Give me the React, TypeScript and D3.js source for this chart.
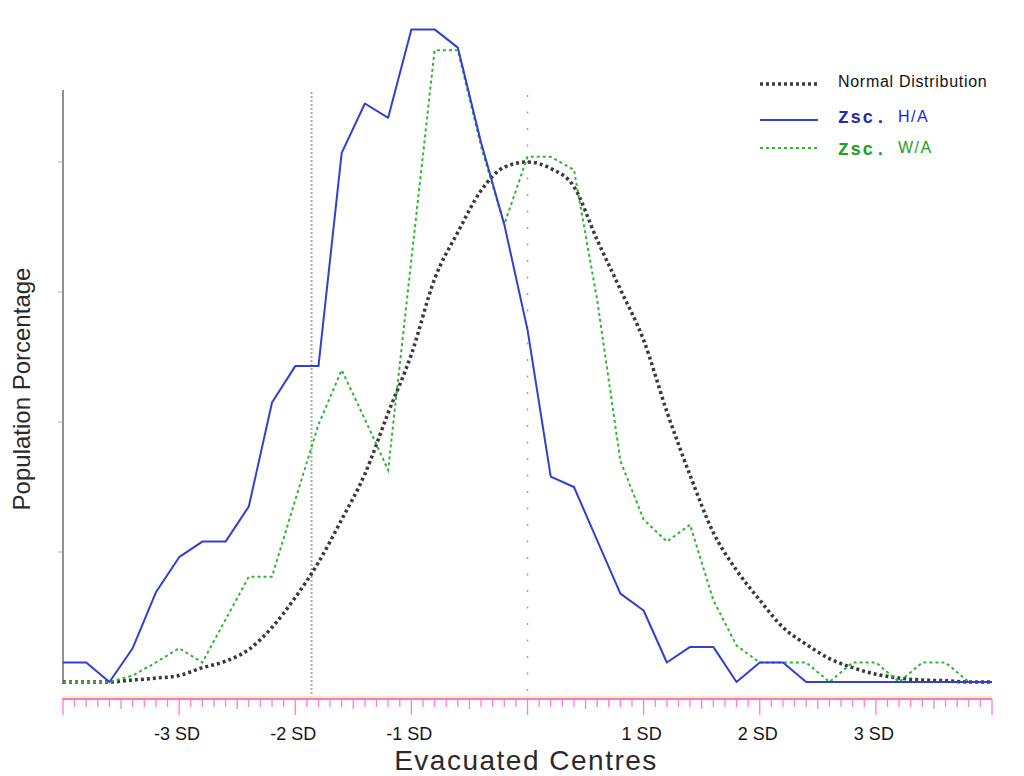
import React from 'react';
import * as d3 from 'd3';

// z-score categories (SD units)
const zScores = [
  -4.0, -3.8, -3.6, -3.4, -3.2, -3.0, -2.8, -2.6, -2.4, -2.2,
  -2.0, -1.8, -1.6, -1.4, -1.2, -1.0, -0.8, -0.6, -0.4, -0.2,
  0.0, 0.2, 0.4, 0.6, 0.8, 1.0, 1.2, 1.4, 1.6, 1.8,
  2.0, 2.2, 2.4, 2.6, 2.8, 3.0, 3.2, 3.4, 3.6, 3.8, 4.0,
];

// Zsc. H/A (blue solid)
const heightForAge = [
  0.15, 0.15, 0, 0.26, 0.69, 0.96, 1.08, 1.08, 1.35, 2.15,
  2.43, 2.43, 4.07, 4.45, 4.34, 5.02, 5.02, 4.88, 4.15, 3.52,
  2.71, 1.58, 1.5, 1.09, 0.68, 0.55, 0.15, 0.27, 0.27, 0,
  0.15, 0.15, 0, 0, 0, 0, 0, 0, 0, 0, 0,
];

// Zsc. W/A (green dotted)
const weightForAge = [
  0, 0, 0, 0.05, 0.15, 0.26, 0.15, 0.48, 0.81, 0.81,
  1.4, 1.98, 2.4, 2.02, 1.63, 3.25, 4.86, 4.86, 4.12, 3.52,
  4.04, 4.04, 3.94, 2.94, 1.7, 1.25, 1.08, 1.21, 0.63, 0.28,
  0.15, 0.15, 0.15, 0, 0.15, 0.15, 0, 0.15, 0.15, 0, 0,
];

// Normal distribution (black dotted)
const normalDistribution = [
  0, 0, 0, 0.015, 0.03, 0.05, 0.11, 0.16, 0.25, 0.42,
  0.65, 0.92, 1.25, 1.6, 2.07, 2.52, 3.1, 3.46, 3.78, 3.96,
  4.0, 3.95, 3.81, 3.4, 3.02, 2.63, 2.08, 1.59, 1.15, 0.86,
  0.63, 0.42, 0.29, 0.18, 0.11, 0.06, 0.03, 0.015, 0.01, 0, 0,
];

const sdTickValues = [-3, -2, -1, 1, 2, 3];
const sdTickLabels = ['-3 SD', '-2 SD', '-1 SD', '1 SD', '2 SD', '3 SD'];
const yTickValues = [1, 2, 3, 4];
const referenceLines = [-1.86, 0];
const xTitle = 'Evacuated Centres';
const yTitle = 'Population Porcentage';

export default function App() {
  const W = 1024;
  const H = 776;
  const x = d3.scaleLinear().domain([-4, 4]).range([63, 992]);
  const y = d3.scaleLinear().domain([0, 4]).range([682, 162]);

  const mkLine = (vals: number[], curve: any) =>
    d3
      .line<number>()
      .x((_, i) => x(zScores[i]))
      .y((d) => y(d))
      .curve(curve)(vals) || '';

  const minorTicks = d3.range(-40, 41).map((i) => i / 10);
  const axisY = 699;
  const font = '"Liberation Sans", Arial, sans-serif';

  const blue = '#3040d0';
  const green = '#2cb82c';
  const black = '#3a3a3a';

  return (
    <svg
      width={W}
      height={H}
      style={{ position: 'absolute', left: 0, top: 0, display: 'block', background: '#fff' }}
    >
      <rect x={0} y={0} width={W} height={H} fill="#fff" />

      {/* reference vertical dotted lines */}
      <line
        x1={x(referenceLines[0])}
        x2={x(referenceLines[0])}
        y1={92}
        y2={697}
        stroke="#a8a8a8"
        strokeWidth={2}
        strokeDasharray="2 2"
      />
      <line
        x1={x(referenceLines[1])}
        x2={x(referenceLines[1])}
        y1={95}
        y2={697}
        stroke="#a0a0a0"
        strokeWidth={1.5}
        strokeDasharray="2 14.5"
      />

      {/* y axis */}
      <line x1={63} x2={63} y1={90} y2={684} stroke="#909090" strokeWidth={2} />
      {yTickValues.map((t) => (
        <line key={t} x1={58} x2={62} y1={y(t)} y2={y(t)} stroke="#b0b0b0" strokeWidth={1} />
      ))}

      {/* x axis */}
      <line x1={62} x2={992} y1={axisY - 2} y2={axisY - 2} stroke="#f4ee90" strokeWidth={1.5} />
      <line x1={62} x2={992} y1={axisY} y2={axisY} stroke="#ff70e0" strokeWidth={2} />
      {minorTicks.map((t, i) => {
        const major = i % 10 === 0;
        const half = i % 5 === 0 && !major;
        const len = major ? 16 : half ? 10 : 8;
        return (
          <line
            key={i}
            x1={x(t)}
            x2={x(t)}
            y1={axisY}
            y2={axisY + len}
            stroke="#ff78e4"
            strokeWidth={1.3}
          />
        );
      })}
      {sdTickValues.map((t, i) => (
        <text
          key={t}
          x={x(t) - 2}
          y={740}
          textAnchor="middle"
          fontFamily={font}
          fontSize={18}
          fill="#151515"
        >
          {sdTickLabels[i]}
        </text>
      ))}

      {/* axis titles */}
      <text
        x={526}
        y={770}
        textAnchor="middle"
        fontFamily={font}
        fontSize={28}
        letterSpacing={1.5}
        fill="#2a2a2a"
      >
        {xTitle}
      </text>
      <text
        transform="translate(30,389) rotate(-90)"
        textAnchor="middle"
        fontFamily={font}
        fontSize={24}
        fill="#2a2a2a"
      >
        {yTitle}
      </text>

      {/* series */}
      <path
        d={mkLine(normalDistribution, d3.curveMonotoneX)}
        fill="none"
        stroke={black}
        strokeWidth={3.5}
        strokeDasharray="3 3"
      />
      <path
        d={mkLine(weightForAge, d3.curveLinear)}
        fill="none"
        stroke={green}
        strokeWidth={2}
        strokeDasharray="3 3"
      />
      <path
        d={mkLine(heightForAge, d3.curveLinear)}
        fill="none"
        stroke={blue}
        strokeWidth={2}
        strokeLinejoin="round"
      />

      {/* legend */}
      <g>
        <line x1={760} x2={818} y1={84} y2={84} stroke={black} strokeWidth={3.5} strokeDasharray="3 3" />
        <text x={838} y={87} fontFamily={font} fontSize={16} letterSpacing={0.7} fill="#111">
          Normal Distribution
        </text>

        <line x1={760} x2={818} y1={120} y2={120} stroke={blue} strokeWidth={2} />
        <text x={838} y={123} fontFamily='"Liberation Mono", "DejaVu Sans Mono", monospace' fontWeight="bold" fontSize={18} letterSpacing={1.5} fill="#2a2ab0">
          Zsc.
        </text>
        <text x={898} y={122} fontFamily={font} fontSize={16} letterSpacing={1.5} fill="#1c1cf0">
          H/A
        </text>

        <line x1={760} x2={818} y1={148} y2={148} stroke={green} strokeWidth={2} strokeDasharray="3 3" />
        <text x={838} y={155} fontFamily='"Liberation Mono", "DejaVu Sans Mono", monospace' fontWeight="bold" fontSize={18} letterSpacing={1.5} fill="#20a020">
          Zsc.
        </text>
        <text x={898} y={153} fontFamily={font} fontSize={16} letterSpacing={1.5} fill="#20a020">
          W/A
        </text>
      </g>
    </svg>
  );
}
